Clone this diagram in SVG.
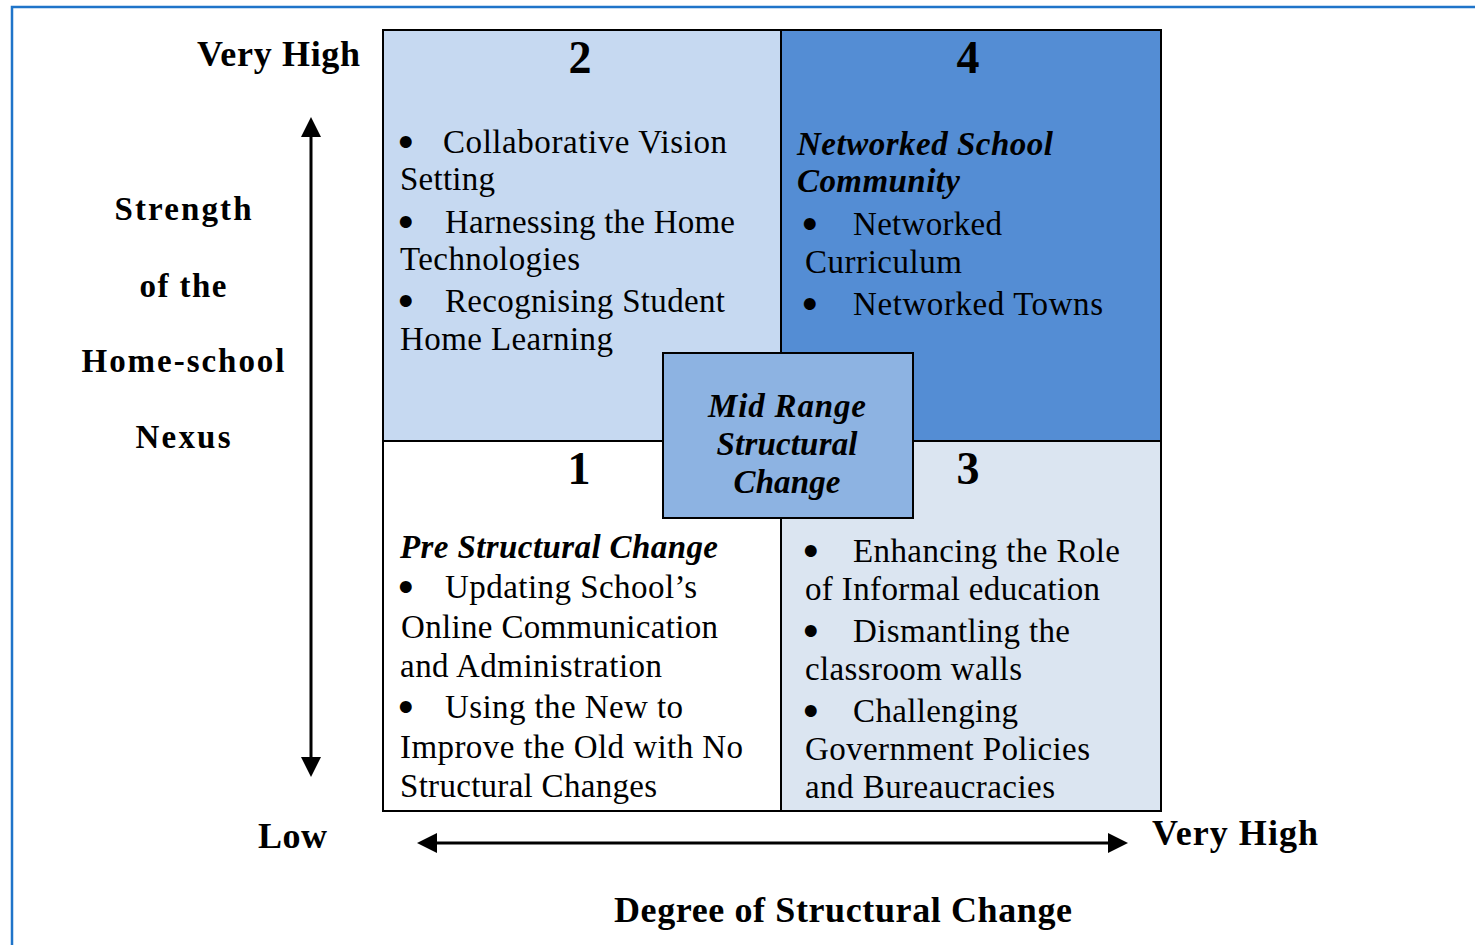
<svg xmlns="http://www.w3.org/2000/svg" width="1475" height="945" viewBox="0 0 1475 945">
<defs>
<style>
text{font-family:"Liberation Serif","Times New Roman",serif;fill:#000}
.b{font-size:33px}
.bul{font-size:33px;stroke:#000;stroke-width:4;stroke-linejoin:round}
.h{font-size:36px;font-weight:bold}
.lab{font-size:33px;font-weight:bold;text-anchor:middle}
.num{font-size:46px;font-weight:bold;text-anchor:middle}
.bi{font-size:33px;font-weight:bold;font-style:italic}
.cell{stroke:#000;stroke-width:2}
.ax{stroke:#000;stroke-width:3;fill:none}
</style>
<marker id="ah" viewBox="0 0 20 20" refX="10" refY="10" markerWidth="20" markerHeight="20" markerUnits="userSpaceOnUse" orient="auto-start-reverse">
<path d="M0,0 L20,10 L0,20 z" fill="#000"/>
</marker>
</defs>
<rect width="1475" height="945" fill="#fff"/>
<path d="M12,945 V7 H1475" fill="none" stroke="#1f74c9" stroke-width="2.5"/>

<g id="axis-labels">
<text class="h" x="197" y="66" textLength="163" lengthAdjust="spacing">Very High</text>
<text class="h" x="258" y="848" textLength="69" lengthAdjust="spacing">Low</text>
<text class="h" x="1152" y="845" textLength="166" lengthAdjust="spacing">Very High</text>
<text class="h" x="614" y="922" textLength="458" lengthAdjust="spacing">Degree of Structural Change</text>
<text class="lab" x="183" y="220" textLength="137" lengthAdjust="spacing">Strength</text>
<text class="lab" x="183" y="297" textLength="87" lengthAdjust="spacing">of the</text>
<text class="lab" x="183" y="372" textLength="203" lengthAdjust="spacing">Home-school</text>
<text class="lab" x="183" y="448" textLength="95" lengthAdjust="spacing">Nexus</text>
</g>

<g id="connectors">
<line class="ax" x1="311" y1="127" x2="311" y2="767" marker-start="url(#ah)" marker-end="url(#ah)"/>
<line class="ax" x1="427" y1="843" x2="1118" y2="843" marker-start="url(#ah)" marker-end="url(#ah)"/>
</g>

<g id="q2">
<rect class="cell" x="383" y="30" width="398" height="411" fill="#c6d9f1"/>
<text class="num" x="580" y="73">2</text>
<text class="bul" x="400" y="154">•</text>
<text class="b" x="443" y="153" textLength="284" lengthAdjust="spacing">Collaborative Vision</text>
<text class="b" x="400" y="190" textLength="95" lengthAdjust="spacing">Setting</text>
<text class="bul" x="400" y="234">•</text>
<text class="b" x="445" y="233" textLength="290" lengthAdjust="spacing">Harnessing the Home</text>
<text class="b" x="400" y="270" textLength="180" lengthAdjust="spacing">Technologies</text>
<text class="bul" x="400" y="313">•</text>
<text class="b" x="445" y="312" textLength="280" lengthAdjust="spacing">Recognising Student</text>
<text class="b" x="400" y="350" textLength="213" lengthAdjust="spacing">Home Learning</text>
</g>

<g id="q4">
<rect class="cell" x="781" y="30" width="380" height="411" fill="#548dd4"/>
<text class="num" x="968" y="73">4</text>
<text class="bi" x="797" y="155" textLength="256" lengthAdjust="spacing">Networked School</text>
<text class="bi" x="797" y="192" textLength="163" lengthAdjust="spacing">Community</text>
<text class="bul" x="804" y="236">•</text>
<text class="b" x="853" y="235" textLength="149" lengthAdjust="spacing">Networked</text>
<text class="b" x="805" y="273" textLength="157" lengthAdjust="spacing">Curriculum</text>
<text class="bul" x="804" y="316">•</text>
<text class="b" x="853" y="315" textLength="250" lengthAdjust="spacing">Networked Towns</text>
</g>

<g id="q1">
<rect class="cell" x="383" y="441" width="398" height="370" fill="#fff"/>
<text class="num" x="579" y="484">1</text>
<text class="bi" x="400" y="558" textLength="318" lengthAdjust="spacing">Pre Structural Change</text>
<text class="bul" x="400" y="599">•</text>
<text class="b" x="445" y="598" textLength="252" lengthAdjust="spacing">Updating School’s</text>
<text class="b" x="401" y="638" textLength="317" lengthAdjust="spacing">Online Communication</text>
<text class="b" x="400" y="677" textLength="262" lengthAdjust="spacing">and Administration</text>
<text class="bul" x="400" y="719">•</text>
<text class="b" x="445" y="718" textLength="238" lengthAdjust="spacing">Using the New to</text>
<text class="b" x="400" y="758" textLength="343" lengthAdjust="spacing">Improve the Old with No</text>
<text class="b" x="400" y="797" textLength="257" lengthAdjust="spacing">Structural Changes</text>
</g>

<g id="q3">
<rect class="cell" x="781" y="441" width="380" height="370" fill="#dbe5f1"/>
<text class="num" x="968" y="484">3</text>
<text class="bul" x="805" y="563">•</text>
<text class="b" x="853" y="562" textLength="267" lengthAdjust="spacing">Enhancing the Role</text>
<text class="b" x="805" y="600" textLength="295" lengthAdjust="spacing">of Informal education</text>
<text class="bul" x="805" y="643">•</text>
<text class="b" x="853" y="642" textLength="217" lengthAdjust="spacing">Dismantling the</text>
<text class="b" x="805" y="680" textLength="217" lengthAdjust="spacing">classroom walls</text>
<text class="bul" x="805" y="723">•</text>
<text class="b" x="853" y="722" textLength="165" lengthAdjust="spacing">Challenging</text>
<text class="b" x="805" y="760" textLength="285" lengthAdjust="spacing">Government Policies</text>
<text class="b" x="805" y="798" textLength="250" lengthAdjust="spacing">and Bureaucracies</text>
</g>

<g id="mid">
<rect class="cell" x="663" y="353" width="250" height="165" fill="#8db3e2"/>
<text class="bi" x="787" y="417" text-anchor="middle" textLength="158" lengthAdjust="spacing">Mid Range</text>
<text class="bi" x="787" y="455" text-anchor="middle" textLength="141" lengthAdjust="spacing">Structural</text>
<text class="bi" x="787" y="493" text-anchor="middle" textLength="107" lengthAdjust="spacing">Change</text>
</g>
</svg>
